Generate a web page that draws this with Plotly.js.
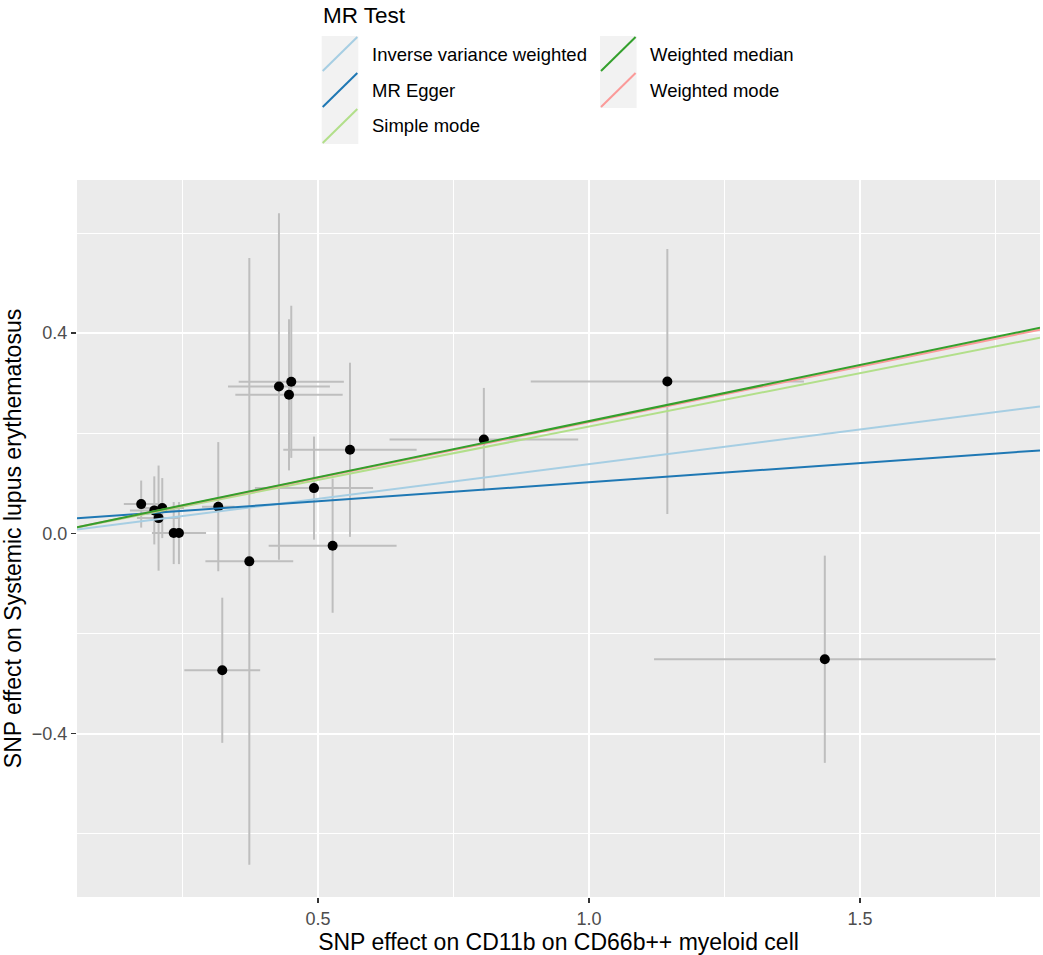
<!DOCTYPE html>
<html><head><meta charset="utf-8">
<script src="https://cdn.plot.ly/plotly-3.0.1.min.js"></script>
<style>html,body{margin:0;padding:0;background:#fff;} #chart{width:1043px;height:955px;}</style>
</head><body><div id="chart"></div>
<script>
// SNP-level data
const snpBetaExposure = [0.1738, 0.1980, 0.2127, 0.2059, 0.2338, 0.2435, 0.3160, 0.3733, 0.4280, 0.4507, 0.4465, 0.4926, 0.5590, 0.5270, 0.3234, 0.8060, 1.1445, 1.4350];
const snpBetaOutcome  = [0.0585, 0.0459, 0.0505, 0.0305, 0.0006, 0.0006, 0.0533, -0.0559, 0.2934, 0.3028, 0.2768, 0.0904, 0.1670, -0.0246, -0.2735, 0.1876, 0.3034, -0.2515];
const snpSeExposure   = [0.032, 0.045, 0.040, 0.040, 0.040, 0.050, 0.030, 0.081, 0.094, 0.097, 0.099, 0.109, 0.123, 0.118, 0.070, 0.174, 0.252, 0.315];
const snpSeOutcome    = [0.047, 0.068, 0.060, 0.105, 0.062, 0.062, 0.129, 0.606, 0.346, 0.152, 0.151, 0.103, 0.174, 0.134, 0.145, 0.103, 0.2645, 0.207];

// MR method fits
const methodNames      = ["Inverse variance weighted", "MR Egger", "Simple mode", "Weighted median", "Weighted mode"];
const methodIntercepts = [0, 0.0258, 0, 0, 0];
const methodSlopes     = [0.1384, 0.0764, 0.2134, 0.2243, 0.2222];
const methodColors     = ["#A6CEE3", "#1F78B4", "#B2DF8A", "#33A02C", "#FB9A99"];
const drawOrder        = [0, 1, 2, 4, 3];

const xTickVals = [0.5, 1.0, 1.5];
const yTickVals = [-0.4, 0.0, 0.4];
const xRange = [0.0554, 1.832];
const yRange = [-0.7265, 0.706];

const W = 1043, H = 955;
const M = {l: 77, r: 3, t: 180, b: 58};
const PW = W - M.l - M.r, PH = H - M.t - M.b;
const px2paperX = px => (px - M.l) / PW;
const px2paperY = py => (H - M.b - py) / PH;

const FONT = "Liberation Sans, Arial, Helvetica, sans-serif";

const traces = [];
traces.push({
  type: 'scatter', mode: 'markers',
  x: snpBetaExposure, y: snpBetaOutcome,
  error_x: {type: 'data', array: snpSeExposure, visible: true, color: '#BEBEBE', thickness: 2, width: 0},
  error_y: {type: 'data', array: snpSeOutcome, visible: true, color: '#BEBEBE', thickness: 2, width: 0},
  marker: {color: '#000000', size: 10},
  showlegend: false, hoverinfo: 'x+y'
});
drawOrder.forEach(i => {
  traces.push({
    type: 'scatter', mode: 'lines',
    x: xRange,
    y: xRange.map(v => methodIntercepts[i] + methodSlopes[i] * v),
    line: {color: methodColors[i], width: 2},
    name: methodNames[i], showlegend: false
  });
});

// custom ggplot-like legend
const shapes = [], annotations = [];
annotations.push({
  xref: 'paper', yref: 'paper', x: px2paperX(321), y: px2paperY(15),
  xanchor: 'left', yanchor: 'middle', showarrow: false,
  text: 'MR Test', font: {family: FONT, size: 22.5, color: '#000'}
});
const keyW = 36.6, keyH = 36;
const colX = [321.7, 600];
const labelX = [370, 648];
const rowY0 = 36;
methodNames.forEach((name, i) => {
  const col = i < 3 ? 0 : 1;
  const row = i < 3 ? i : i - 3;
  const x0 = colX[col], y0 = rowY0 + row * keyH;
  shapes.push({
    type: 'rect', xref: 'paper', yref: 'paper',
    x0: px2paperX(x0), x1: px2paperX(x0 + keyW),
    y0: px2paperY(y0), y1: px2paperY(y0 + keyH),
    fillcolor: '#F2F2F2', line: {width: 0}, layer: 'above'
  });
  shapes.push({
    type: 'line', xref: 'paper', yref: 'paper',
    x0: px2paperX(x0 + 1), y0: px2paperY(y0 + keyH - 1),
    x1: px2paperX(x0 + keyW - 1), y1: px2paperY(y0 + 1),
    line: {color: methodColors[i], width: 2}, layer: 'above'
  });
  annotations.push({
    xref: 'paper', yref: 'paper', x: px2paperX(labelX[col]), y: px2paperY(y0 + keyH / 2),
    xanchor: 'left', yanchor: 'middle', showarrow: false,
    text: name, font: {family: FONT, size: 18.5, color: '#000'}
  });
});

const layout = {
  width: W, height: H,
  margin: M,
  paper_bgcolor: '#FFFFFF', plot_bgcolor: '#EBEBEB',
  font: {family: FONT, color: '#000'},
  showlegend: false,
  xaxis: {
    range: xRange, tickvals: xTickVals, ticktext: xTickVals.map(v => v.toFixed(1)),
    showgrid: true, gridcolor: '#FFFFFF', gridwidth: 2,
    minor: {tickvals: [0.25, 0.75, 1.25, 1.75], showgrid: true, gridcolor: '#FFFFFF', gridwidth: 1, ticks: ''},
    zeroline: false, showline: false,
    ticks: 'outside', ticklen: 5, tickwidth: 1.5, tickcolor: '#333333',
    tickfont: {family: FONT, size: 18, color: '#4D4D4D'},
    title: {text: 'SNP effect on CD11b on CD66b++ myeloid cell', font: {family: FONT, size: 23, color: '#000'}, standoff: 6},
    automargin: false
  },
  yaxis: {
    range: yRange, tickvals: yTickVals, ticktext: yTickVals.map(v => (v < 0 ? '\u2212' : '') + Math.abs(v).toFixed(1)),
    showgrid: true, gridcolor: '#FFFFFF', gridwidth: 2,
    minor: {tickvals: [-0.6, -0.2, 0.2, 0.6], showgrid: true, gridcolor: '#FFFFFF', gridwidth: 1, ticks: ''},
    zeroline: false, showline: false,
    ticks: 'outside', ticklen: 5, tickwidth: 1.5, tickcolor: '#333333',
    tickfont: {family: FONT, size: 18, color: '#4D4D4D'},
    title: {text: 'SNP effect on Systemic lupus erythematosus', font: {family: FONT, size: 23, color: '#000'}, standoff: 6},
    automargin: false
  },
  shapes: shapes,
  annotations: annotations
};

Plotly.newPlot('chart', traces, layout, {displayModeBar: false, staticPlot: true});
</script>
</body></html>
